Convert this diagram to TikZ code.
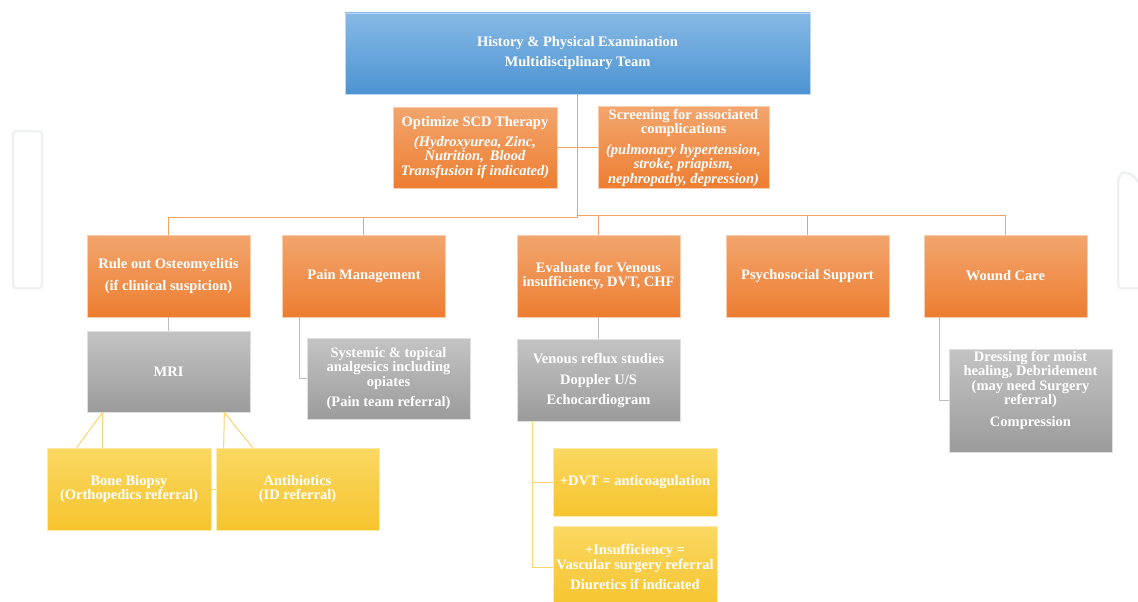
\documentclass[tikz,border=0pt]{standalone}
\usepackage{fontspec}
\setmainfont{Liberation Serif}
\usetikzlibrary{calc}
\definecolor{orT}{HTML}{F2A66E}
\definecolor{orB}{HTML}{ED7D31}
\definecolor{blT}{HTML}{86B9E5}
\definecolor{blB}{HTML}{4D93D2}
\definecolor{grT}{HTML}{C4C4C4}
\definecolor{grB}{HTML}{9B9B9B}
\definecolor{ylT}{HTML}{FAD862}
\definecolor{ylB}{HTML}{F6C42E}
\definecolor{orL}{HTML}{F2A262}
\definecolor{grL}{HTML}{BDBDBD}
\definecolor{ylL}{HTML}{F8D474}
\definecolor{wmC}{HTML}{EEF0F1}
\tikzset{
  base/.style={rectangle, inner sep=2pt, text=white, align=center,
    font=\bfseries\fontsize{14.5}{14.5}\selectfont, line width=0.7pt,
    minimum width=163pt, minimum height=82pt},
  obox/.style={base, top color=orT, bottom color=orB, draw=orT!55!white},
  bbox/.style={base, top color=blT, bottom color=blB, draw=blT!55!white},
  gbox/.style={base, top color=grT, bottom color=grB, draw=grT!55!white},
  ybox/.style={base, top color=ylT, bottom color=ylB, draw=ylT!55!white},
  txt/.style={text=white, align=center, inner sep=0pt,
    font=\bfseries\fontsize{14.5}{14.5}\selectfont},
  oc/.style={draw=orL, line width=1pt},
  gc/.style={draw=grL, line width=1pt},
  yc/.style={draw=ylL, line width=1pt},
  wm/.style={draw=wmC, line width=2.5pt, rounded corners=3pt}
}
\begin{document}
\begin{tikzpicture}[x=1pt,y=-1pt]
\useasboundingbox (0,0) rectangle (1138,602);
% faint watermark shapes
\draw[wm] (13,131) rectangle (42,288);
\draw[wm] (1138,288) -| (1118,188) .. controls (1118,176) and (1122,172) .. (1127,173) .. controls (1132,174) and (1136,178) .. (1138,182);
% nodes
\node[bbox, minimum width=465pt, minimum height=81pt] (top) at (577.5,53.5)
  {History \& Physical Examination\\[5.5pt] Multidisciplinary Team};
\node[obox, minimum width=164pt, minimum height=81pt] (opt) at (475,147.5)
  {Optimize SCD Therapy\\[5.5pt] \itshape (Hydroxyurea, Zinc,\\ \itshape Nutrition,\, Blood\\ \itshape Transfusion if indicated)};
\node[obox, minimum width=171pt, minimum height=81pt] (scr) at (683.5,147.5)
  {Screening for associated\\ complications\\[6pt] \itshape (pulmonary hypertension,\\ \itshape stroke, priapism,\\ \itshape nephropathy, depression)};
\node[obox] (rule) at (168.5,276) {Rule out Osteomyelitis\\[7pt] (if clinical suspicion)};
\node[obox] (pain) at (364,276) {Pain Management};
\node[obox] (eval) at (598.5,276) {Evaluate for Venous\\ insufficiency, DVT, CHF};
\node[obox] (psy) at (807.5,276) {Psychosocial Support};
\node[obox] (wound) at (1005.5,276) {Wound Care};
\node[gbox, minimum height=81pt] (mri) at (168.5,371.5) {MRI};
\node[gbox, minimum height=81pt] (paing) at (388.5,378.5)
  {Systemic \& topical\\ analgesics including\\ opiates\\[6pt] (Pain team referral)};
\node[gbox] (venous) at (598.5,380)
  {Venous reflux studies\\[6.5pt] Doppler U/S\\[5.5pt] Echocardiogram};
\node[gbox, minimum height=103pt] (dress) at (1030.5,400.5) {};
\node[txt] (dresst) at (1030.5,390)
  {Dressing for moist\\ healing, Debridement\\ (may need Surgery\\ referral)\\[7pt] Compression};
\node[ybox, minimum width=164pt] (bone) at (129,489) {Bone Biopsy\\ (Orthopedics referral)};
\node[ybox] (anti) at (297.5,489) {Antibiotics\\ (ID referral)};
\node[ybox, minimum width=164pt, minimum height=68pt] (dvt) at (635,482) {+DVT = anticoagulation};
\node[ybox, minimum width=164pt] (ins) at (635,567)
  {+Insufficiency =\\ Vascular surgery referral\\[5.5pt] Diuretics if indicated};
% connectors
\coordinate (busL) at (577.5,217);
\coordinate (busR) at (577.5,215);
\draw[oc] (opt.east) -- (scr.west);
\draw[oc] (top.south) -- (busL);
\draw[oc] (busL) -| (rule.north);
\draw[oc] (busL) -| ($(pain.north)+(-1,0)$);
\draw[oc] (busR) -| (eval.north);
\draw[oc] (busR) -| (psy.north);
\draw[oc] (busR) -| (wound.north);
\draw[gc] (rule.south) -- (mri.north);
\draw[gc] ($(pain.south west)+(17,0)$) |- (paing.west);
\draw[gc] (eval.south) -- (venous.north);
\draw[gc] ($(wound.south west)+(16,0)$) |- (dress.west);
\draw[yc] ($(mri.south west)+(16,0)$) -- ($(bone.north west)+(56,0)$);
\draw[yc] ($(mri.south west)+(16,0)$) -- ($(bone.north west)+(30,0)$);
\draw[yc] ($(mri.south east)+(-26,0)$) -- ($(anti.north west)+(8,0)$);
\draw[yc] ($(mri.south east)+(-26,0)$) -- ($(anti.north west)+(37,0)$);
\draw[yc] (bone.east) -- (anti.west);
\draw[yc] ($(venous.south west)+(16,0)$) |- (dvt.west);
\draw[yc] ($(venous.south west)+(16,0)$) |- (ins.west);
\end{tikzpicture}
\end{document}
